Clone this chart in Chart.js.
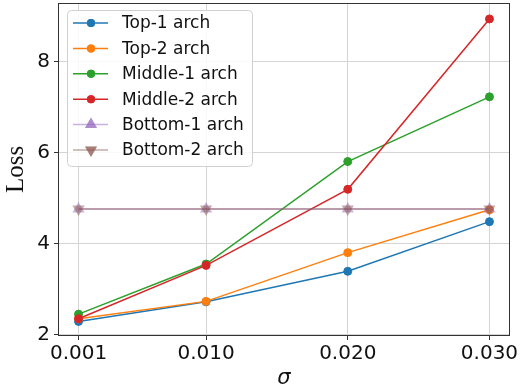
<!DOCTYPE html>
<html>
<head>
<meta charset="utf-8">
<script src="https://cdn.jsdelivr.net/npm/chart.js@4"></script>
<style>
  html, body { margin: 0; padding: 0; background: #fff; }
  #wrap { width: 522px; height: 391px; overflow: hidden; }
  #c { display: block; margin-top: -4px; }
</style>
</head>
<body>
<div id="wrap"><canvas id="c" width="522" height="395"></canvas></div>
<script>
// values
const sigmas = [0.001, 0.010, 0.020, 0.030];
const xTicks = [0.001, 0.010, 0.020, 0.030];
const yTicks = [2, 4, 6, 8];

const labels = ['Top-1 arch', 'Top-2 arch', 'Middle-1 arch', 'Middle-2 arch', 'Bottom-1 arch', 'Bottom-2 arch'];
const top1 = [2.29, 2.72, 3.39, 4.48];
const top2 = [2.35, 2.73, 3.80, 4.74];
const middle1 = [2.45, 3.55, 5.80, 7.22];
const middle2 = [2.35, 3.52, 5.19, 8.93];
const bottom1 = [4.76, 4.76, 4.76, 4.76];
const bottom2 = [4.76, 4.76, 4.76, 4.76];

const colors = ['#1f77b4', '#ff7f0e', '#2ca02c', '#d62728', 'rgba(148,103,189,0.5)', 'rgba(140,86,75,0.5)'];
const series = [top1, top2, middle1, middle2, bottom1, bottom2];

let datasets = series.map((vals, i) => {
    let tri = i >= 4;
    return {
        label: labels[i],
        data: vals.map((v, j) => ({ x: sigmas[j], y: v })),
        borderColor: colors[i],
        backgroundColor: colors[i],
        borderWidth: 1.5,
        pointStyle: tri ? 'triangle' : 'circle',
        pointRotation: i == 5 ? 180 : 0,
        pointRadius: tri ? 7 : 4,
        pointBorderWidth: tri ? 0 : 1,
        order: series.length - i  // later series on top, like matplotlib
    };
});

// frame round the plot area
const frame = {
    id: 'frame',
    afterDatasetsDraw(chart) {
        let a = chart.chartArea, ctx = chart.ctx;
        ctx.save();
        ctx.strokeStyle = '#333';
        ctx.lineWidth = 1;
        ctx.strokeRect(a.left + 0.5, a.top + 0.5, a.right - a.left - 1, a.bottom - a.top - 1);
        ctx.restore();
    }
};

// matplotlib-style legend box in upper left (canvas is shifted up 4px)
const legendBox = {
    id: 'legendBox',
    afterDraw(chart) {
        let ctx = chart.ctx;
        let x = 67, y = 14, w = 185, h = 156;
        ctx.save();
        ctx.fillStyle = 'rgba(255,255,255,0.85)';
        ctx.strokeStyle = '#d0d0d0';
        ctx.lineWidth = 1;
        ctx.beginPath();
        ctx.roundRect(x + 0.5, y + 0.5, w, h, 4);
        ctx.fill();
        ctx.stroke();

        ctx.font = '17px "DejaVu Sans"';
        ctx.textBaseline = 'middle';
        chart.data.datasets.forEach((ds, i) => {
            let cy = 27 + i * 25.4;
            ctx.strokeStyle = ds.borderColor;
            ctx.lineWidth = 1.5;
            ctx.beginPath();
            ctx.moveTo(73, cy);
            ctx.lineTo(108, cy);
            ctx.stroke();
            ctx.fillStyle = ds.backgroundColor;
            Chart.helpers.drawPoint(ctx, {
                pointStyle: ds.pointStyle,
                rotation: ds.pointRotation,
                radius: ds.pointRadius,
                borderWidth: 0
            }, 91, cy);
            ctx.fill();
            ctx.fillStyle = '#111';
            ctx.fillText(ds.label, 122, cy + 1);
        });
        ctx.restore();
    }
};

new Chart(document.getElementById('c'), {
    type: 'line',
    data: { datasets: datasets },
    plugins: [frame, legendBox],
    options: {
        responsive: false,
        animation: false,
        layout: { padding: { left: 0, right: 12, top: 1, bottom: 0 } },
        plugins: { legend: { display: false }, tooltip: { enabled: false } },
        scales: {
            x: {
                type: 'linear',
                min: -0.00045,
                max: 0.03145,
                afterBuildTicks(scale) { scale.ticks = xTicks.map(v => ({ value: v })); },
                afterFit(scale) {
                    scale.height = 55;
                    scale.paddingLeft = 0;
                    scale.paddingRight = 0;
                },
                ticks: {
                    color: '#111',
                    font: { family: 'DejaVu Sans', size: 20 },
                    padding: 2,
                    maxRotation: 0,
                    callback: v => v.toFixed(3)
                },
                grid: { color: '#d4d4d4', lineWidth: 1, tickLength: 4, tickColor: '#333' },
                border: { display: false },
                title: {
                    display: true,
                    text: 'σ',
                    color: '#111',
                    font: { family: 'DejaVu Sans', size: 21, style: 'italic' },
                    padding: { top: 0, bottom: 0 }
                }
            },
            y: {
                min: 1.97,
                max: 9.28,
                afterBuildTicks(scale) { scale.ticks = yTicks.map(v => ({ value: v })); },
                afterFit(scale) {
                    scale.width = 58;
                    scale.paddingTop = 0;
                    scale.paddingBottom = 0;
                },
                ticks: {
                    color: '#111',
                    font: { family: 'DejaVu Sans', size: 20 },
                    padding: 4
                },
                grid: { color: '#d4d4d4', lineWidth: 1, tickLength: 4, tickColor: '#333' },
                border: { display: false },
                title: {
                    display: true,
                    text: 'Loss',
                    color: '#111',
                    font: { family: 'Liberation Serif', size: 25, lineHeight: 1 },
                    padding: { top: 4, bottom: 0 }
                }
            }
        }
    }
});
</script>
</body>
</html>
